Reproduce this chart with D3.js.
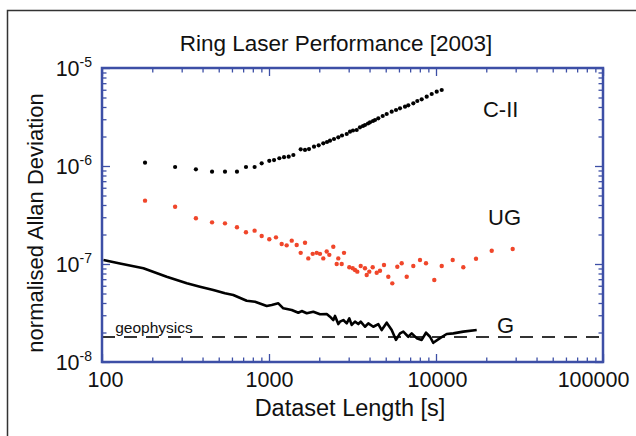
<!DOCTYPE html>
<html><head><meta charset="utf-8">
<script src="https://cdn.jsdelivr.net/npm/d3@7/dist/d3.min.js"></script>
<style>
html,body{margin:0;padding:0;background:#fff;}
svg{display:block;font-family:"Liberation Sans",Arial,Helvetica,sans-serif;}
</style></head>
<body>
<svg id="chart" width="636" height="436"></svg>
<script>
// ---- data ----
const title = "Ring Laser Performance [2003]";
const xLabel = "Dataset Length [s]";
const yLabel = "normalised Allan Deviation";
const xTickValues = [100, 1000, 10000, 100000];
const xTickLabels = ["100", "1000", "10000", "100000"];
const yTickValues = [1e-8, 1e-7, 1e-6, 1e-5];
const yTickExponents = ["-8", "-7", "-6", "-5"];

// C-II (black dots), y in units of 1e-6
const ciiX = [181,274,365,456,545,643,728,820,904,1004,1072,1153,1230,1312,1399,1548,1643,1736,1860,1984,2114,2225,2319,2450,2600,2736,2920,3055,3184,3350,3506,3654,3757,3916,4025,4196,4313,4514,4795,5067,5429,5762,6088,6522,6825,7313,7727,8210,8798,9425,10100,10820];
const ciiY = [1.08,0.977,0.925,0.875,0.875,0.875,0.977,0.977,1.066,1.13,1.15,1.20,1.23,1.245,1.295,1.48,1.46,1.49,1.573,1.626,1.704,1.757,1.812,1.886,1.963,2.048,2.121,2.239,2.302,2.329,2.482,2.559,2.620,2.714,2.792,2.879,2.948,3.067,3.237,3.393,3.583,3.728,3.880,4.029,4.163,4.363,4.606,4.793,5.095,5.429,5.731,5.965];

// UG (red dots), y in units of 1e-7
const ugX = [181,274,365,456,545,643,728,820,904,1004,1101,1191,1276,1368,1465,1548,1643,1719,1827,1931,2020,2114,2216,2297,2427,2543,2600,2725,2813,3026,3171,3273,3379,3541,3757,3846,3986,4178,4415,4620,4882,5181,5474,5866,6232,6678,7313,8022,8712,9768,10820,12590,14570,17360,21560,28790];
const ugY = [4.43,3.84,2.93,2.66,2.60,2.37,2.11,2.19,1.93,1.79,1.87,1.60,1.55,1.73,1.56,1.30,1.65,1.14,1.27,1.30,1.27,1.14,1.34,1.24,1.50,1.00,1.14,1.00,1.30,0.925,0.904,0.869,0.835,0.954,0.904,0.772,0.835,0.925,0.815,0.854,0.977,0.742,0.635,0.938,1.016,0.742,0.954,1.098,1.016,0.687,0.954,1.098,0.925,1.133,1.367,1.423];

// G (black line), y in units of 1e-8
const gX = [102,128,177,244,322,386,464,545,611,735,825,969,1038,1137,1218,1368,1498,1570,1682,1842,2020,2216,2319,2427,2485,2600,2662,2786,2920,3026,3127,3273,3425,3541,3757,3932,4213,4514,4730,5067,5429,5762,6088,6372,6825,7153,7664,8210,8712,9206,9634,10570,11590,12700,14570,17530];
const gY = [10.98,10.12,9.04,7.42,6.35,5.87,5.43,5.02,4.83,4.22,4.12,3.73,3.82,3.97,3.53,3.39,3.18,3.31,3.14,3.26,3.07,3.09,2.90,2.68,2.95,2.44,2.58,2.68,2.48,2.79,2.39,2.58,2.44,2.58,2.29,2.48,2.29,2.44,2.12,2.52,2.12,1.68,1.96,2.04,1.81,1.96,1.75,1.68,1.99,1.81,1.57,1.75,1.93,1.96,2.04,2.12];

const geophysicsLevel = 1.8e-8;
const seriesLabels = [
  {text: "C-II", x: 19100, y: 3.16e-6},
  {text: "UG",   x: 20500, y: 2.5e-7},
  {text: "G",    x: 23200, y: 1.98e-8}
];
const geoLabel = {text: "geophysics", x: 120, y: 1.98e-8};

// ---- layout ----
const W = 636, H = 436;
const L = 102, T = 68, R = 603, B = 362;
const blue = "#3d4fa6";

const svg = d3.select("#chart");
svg.append("rect").attr("width", W).attr("height", H).attr("fill", "#fff");

// outer frame (partially cropped)
svg.append("path").attr("d", `M7.5,${H} V10.5 H${W}`)
  .attr("fill", "none").attr("stroke", "#333").attr("stroke-width", 1.5);

const x = d3.scaleLog().domain([100, 100000]).range([L, R]);
const y = d3.scaleLog().domain([1e-8, 1e-5]).range([B, T]);

const xAll = x.ticks();
const yAll = y.ticks();
const isMajor = v => Math.abs(Math.log10(v) - Math.round(Math.log10(v))) < 1e-9;
const xMinor = xAll.filter(v => !isMajor(v));
const yMinor = yAll.filter(v => !isMajor(v));

function styleAxis(g) {
  g.select(".domain").remove();
  g.selectAll(".tick line").attr("stroke", blue).attr("stroke-width", 1.3);
}
const majLen = 8, minLen = 4.5;

// bottom
svg.append("g").attr("transform", `translate(0,${B})`)
  .call(d3.axisBottom(x).tickValues(xMinor).tickSize(-minLen).tickFormat("")).call(styleAxis);
const gb = svg.append("g").attr("transform", `translate(0,${B})`)
  .call(d3.axisBottom(x).tickValues(xTickValues).tickSize(-majLen).tickPadding(10)
    .tickFormat((d, i) => xTickLabels[i])).call(styleAxis);
const labelShift = [3, 0, 1, -10];
gb.selectAll("text").attr("font-size", 21.5).attr("fill", "#111")
  .attr("font-family", "'Liberation Sans',Arial,sans-serif")
  .attr("dx", (d, i) => labelShift[i]);
// top
svg.append("g").attr("transform", `translate(0,${T})`)
  .call(d3.axisTop(x).tickValues(xMinor).tickSize(-minLen).tickFormat("")).call(styleAxis);
svg.append("g").attr("transform", `translate(0,${T})`)
  .call(d3.axisTop(x).tickValues(xTickValues).tickSize(-majLen).tickFormat("")).call(styleAxis);
// left
svg.append("g").attr("transform", `translate(${L},0)`)
  .call(d3.axisLeft(y).tickValues(yMinor).tickSize(-minLen).tickFormat("")).call(styleAxis);
svg.append("g").attr("transform", `translate(${L},0)`)
  .call(d3.axisLeft(y).tickValues(yTickValues).tickSize(-majLen).tickFormat("")).call(styleAxis);
// right
svg.append("g").attr("transform", `translate(${R},0)`)
  .call(d3.axisRight(y).tickValues(yMinor).tickSize(-minLen).tickFormat("")).call(styleAxis);
svg.append("g").attr("transform", `translate(${R},0)`)
  .call(d3.axisRight(y).tickValues(yTickValues).tickSize(-majLen).tickFormat("")).call(styleAxis);

// y tick labels 10^n
const yl = svg.append("g").attr("font-size", 21.5).attr("fill", "#111");
yTickValues.forEach((v, i) => {
  const t = yl.append("text").attr("x", L - 10).attr("y", y(v) + 8).attr("text-anchor", "end");
  t.append("tspan").text("10");
  t.append("tspan").attr("dy", -9).attr("font-size", 14).text(yTickExponents[i]);
});

// geophysics dashed line
svg.append("line")
  .attr("x1", x(100)).attr("x2", x(100000))
  .attr("y1", y(geophysicsLevel)).attr("y2", y(geophysicsLevel))
  .attr("stroke", "#333").attr("stroke-width", 1.8).attr("stroke-dasharray", "13,9");
svg.append("text").attr("x", x(geoLabel.x)).attr("y", y(geoLabel.y))
  .attr("font-size", 15.5).attr("fill", "#111").text(geoLabel.text);

// G line
const gData = gX.map((v, i) => [v, gY[i] * 1e-8]);
svg.append("path").datum(gData)
  .attr("d", d3.line().x(d => x(d[0])).y(d => y(d[1])))
  .attr("fill", "none").attr("stroke", "#000").attr("stroke-width", 2.6)
  .attr("stroke-linejoin", "round");

// UG dots
svg.append("g").selectAll("circle").data(ugX.map((v, i) => [v, ugY[i] * 1e-7]))
  .join("circle").attr("cx", d => x(d[0])).attr("cy", d => y(d[1])).attr("r", 2.2)
  .attr("fill", "#f0462a");

// C-II dots
svg.append("g").selectAll("circle").data(ciiX.map((v, i) => [v, ciiY[i] * 1e-6]))
  .join("circle").attr("cx", d => x(d[0])).attr("cy", d => y(d[1])).attr("r", 2.1)
  .attr("fill", "#000");

// series labels
svg.append("g").selectAll("text").data(seriesLabels).join("text")
  .attr("x", d => x(d.x)).attr("y", d => y(d.y))
  .attr("font-size", 22).attr("fill", "#111").text(d => d.text);

// plot box
svg.append("rect").attr("x", L).attr("y", T).attr("width", R - L).attr("height", B - T)
  .attr("fill", "none").attr("stroke", blue).attr("stroke-width", 2.5);

// title & axis labels
svg.append("text").attr("x", 336).attr("y", 51).attr("text-anchor", "middle")
  .attr("font-size", 22.5).attr("fill", "#111").text(title);
svg.append("text").attr("x", 350).attr("y", 416).attr("text-anchor", "middle")
  .attr("font-size", 23.5).attr("fill", "#111").text(xLabel);
svg.append("text").attr("transform", `translate(43,${(T + B) / 2 + 8}) rotate(-90)`)
  .attr("text-anchor", "middle").attr("font-size", 22).attr("fill", "#111").text(yLabel);
</script>
</body></html>
